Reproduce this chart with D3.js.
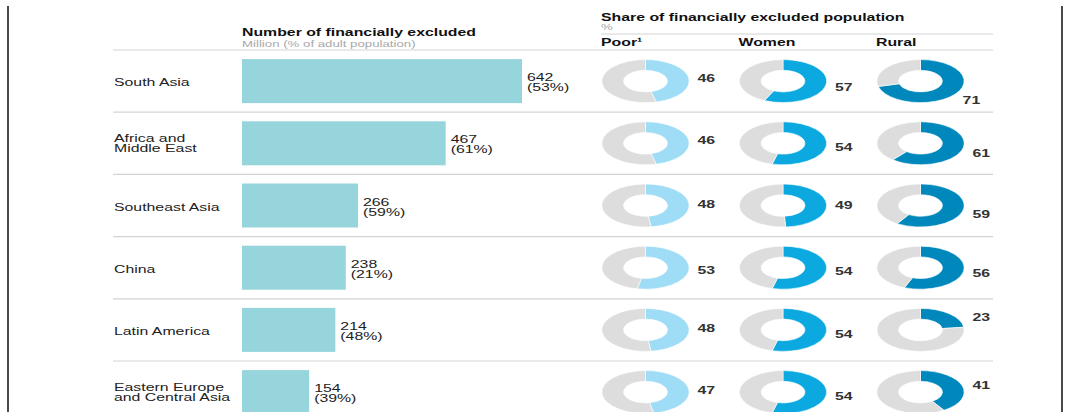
<!DOCTYPE html>
<html>
<head>
<meta charset="utf-8">
<script src="https://cdn.jsdelivr.net/npm/d3@7"></script>
<style>
  html, body { margin: 0; padding: 0; background: #fff; }
  svg { display: block; }
  text { font-family: "Liberation Sans", Arial, sans-serif; }
</style>
</head>
<body>
<svg id="chart" width="1065" height="412"></svg>
<script>
// data
const regions = [
  ['South Asia'],
  ['Africa and', 'Middle East'],
  ['Southeast Asia'],
  ['China'],
  ['Latin America'],
  ['Eastern Europe', 'and Central Asia'],
];
const excluded = [642, 467, 266, 238, 214, 154];
const adultShare = [53, 61, 59, 21, 48, 39];
const poor = [46, 46, 48, 53, 48, 47];
const women = [57, 54, 49, 54, 54, 54];
const rural = [71, 61, 59, 56, 23, 41];
const shareColumns = ['Poor¹', 'Women', 'Rural'];
const shareSeries = [poor, women, rural];
const shareColors = ['#9fdcf5', '#0ba9e0', '#0088bc'];

const STRETCH = 1.44;
const svg = d3.select('#chart');

function label(g, x, y, str, opts = {}) {
  return g
    .append('text')
    .attr('transform', `translate(${x},${y}) scale(${STRETCH},1)`)
    .attr('font-size', opts.size || 11)
    .attr('font-weight', opts.bold ? 'bold' : 'normal')
    .attr('fill', opts.fill || '#222')
    .text(str);
}

const rowY = d3
  .scaleBand()
  .domain(d3.range(regions.length))
  .range([50, 50 + regions.length * 62.2]);

const barX = d3.scaleLinear().domain([0, 642]).range([242, 522]);

const colX = d3
  .scaleOrdinal()
  .domain(shareColumns)
  .range([645.5, 783, 920.5]);

// frame
svg.append('line').attr('x1', 8).attr('x2', 8).attr('y1', 6).attr('y2', 412)
  .attr('stroke', '#4a4a4a').attr('stroke-width', 2);
svg.append('line').attr('x1', 1062).attr('x2', 1062).attr('y1', 6).attr('y2', 412)
  .attr('stroke', '#4a4a4a').attr('stroke-width', 2);

// headers
label(svg, 242, 36, 'Number of financially excluded', { bold: true, fill: '#111' });
label(svg, 242, 46.5, 'Million (% of adult population)', { size: 9.2, fill: '#a8a8a8' });
label(svg, 601, 20.5, 'Share of financially excluded population', { bold: true, fill: '#111' });
label(svg, 601, 30, '%', { size: 9.2, fill: '#a8a8a8' });
shareColumns.forEach(c => {
  label(svg, colX(c) - 44.5, 45.5, c, { bold: true, fill: '#111' });
});

svg.append('line').attr('x1', 601).attr('x2', 993).attr('y1', 34).attr('y2', 34)
  .attr('stroke', '#d4d4d4').attr('stroke-width', 1.2);

// row separators
svg
  .selectAll('line.sep')
  .data(d3.range(regions.length))
  .join('line')
  .attr('class', 'sep')
  .attr('x1', 113)
  .attr('x2', 993)
  .attr('y1', d => rowY(d))
  .attr('y2', d => rowY(d))
  .attr('stroke', '#d4d4d4')
  .attr('stroke-width', 1.2);

const rows = svg
  .selectAll('g.row')
  .data(d3.range(regions.length))
  .join('g')
  .attr('class', 'row');

rows.each(function (i) {
  const g = d3.select(this);
  const cy = rowY(i) + rowY.bandwidth() / 2;

  // region name
  const names = regions[i];
  names.forEach((n, k) => {
    const y = names.length === 1 ? cy + 5 : cy - 1 + k * 10;
    label(g, 114, y, n);
  });

  // bar
  g.append('rect')
    .attr('x', barX(0))
    .attr('y', cy - 22)
    .attr('width', barX(excluded[i]) - barX(0))
    .attr('height', 44)
    .attr('fill', '#96d5db');
  label(g, barX(excluded[i]) + 5, cy, String(excluded[i]));
  label(g, barX(excluded[i]) + 5, cy + 10, `(${adultShare[i]}%)`);

  // donuts
  const pie = d3.pie().sort(null);
  const arc = d3.arc().innerRadius(10.8).outerRadius(21.5);
  const labelDy = d3.scaleLinear().domain([23, 41, 50, 71]).range([-13, -7, 0, 19]);

  shareColumns.forEach((c, j) => {
    const v = shareSeries[j][i];
    const dg = g
      .append('g')
      .attr('transform', `translate(${colX(c)},${cy}) scale(2.03,1)`);
    dg.selectAll('path')
      .data(pie([v, 100 - v]))
      .join('path')
      .attr('d', arc)
      .attr('fill', (d, k) => (k === 0 ? shareColors[j] : '#dddddd'))
      .attr('stroke', '#fff')
      .attr('stroke-width', 0.4);
    const dy = labelDy(v);
    const dx = 52 - Math.max(0, dy - 10) * 1.1;
    label(g, colX(c) + dx, cy + dy + 4, String(v), { bold: true, fill: '#333' });
  });
});
</script>
</body>
</html>
